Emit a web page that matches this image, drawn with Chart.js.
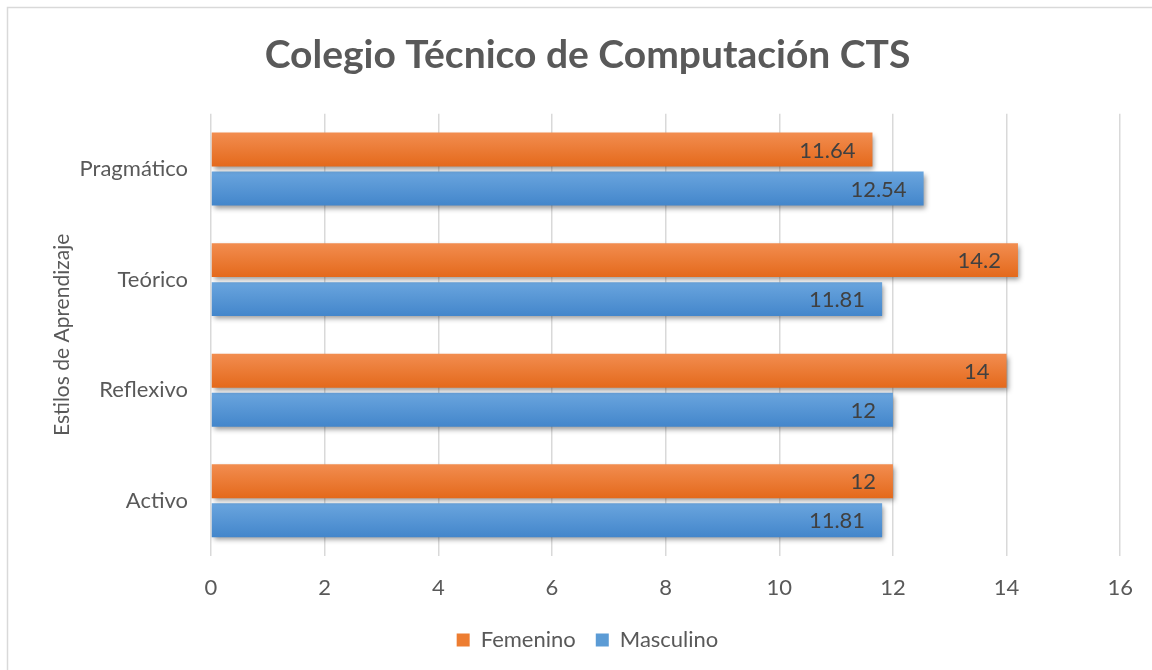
<!DOCTYPE html>
<html>
<head>
<meta charset="utf-8">
<script src="https://cdn.jsdelivr.net/npm/chart.js@4"></script>
<style>
  html, body { margin: 0; padding: 0; background: #fff; }
  #wrap { position: relative; width: 1152px; height: 670px; }
</style>
</head>
<body>
<div id="wrap"><canvas id="estilos"></canvas></div>
<script>
// categories and values
const estilos = ['Pragmático', 'Teórico', 'Reflexivo', 'Activo']
const femenino = [11.64, 14.2, 14, 12]
const masculino = [12.54, 11.81, 12, 11.81]
const xTicks = [0, 2, 4, 6, 8, 10, 12, 14, 16]

const grey = '#595959'
const fontFam = 'Lato, "Open Sans", sans-serif'

// outer border of the chart area (right and bottom edges run off the page)
const frame = {
    id: 'frame',
    beforeDraw(chart) {
        const ctx = chart.ctx
        ctx.save()
        ctx.strokeStyle = '#d9d9d9'
        ctx.lineWidth = 1.5
        ctx.strokeRect(7.5, 7.5, chart.width + 10, chart.height + 10)
        ctx.restore()
    }
}

// gradient fill + drop shadow, like the office look
const shade = {
    id: 'shade',
    beforeDatasetsDraw(chart) {
        const ctx = chart.ctx
        const cols = [['#f28d50', '#e4691b'], ['#6aa5de', '#4386cb']]
        chart.data.datasets.forEach((ds, i) => {
            chart.getDatasetMeta(i).data.forEach(bar => {
                const top = bar.y - bar.height / 2
                const g = ctx.createLinearGradient(0, top, 0, top + bar.height)
                g.addColorStop(0, cols[i][0])
                g.addColorStop(1, cols[i][1])
                bar.options = Object.assign({}, bar.options, { backgroundColor: g })
            })
        })
        ctx.save()
        ctx.shadowColor = 'rgba(0,0,0,0.4)'
        ctx.shadowBlur = 5
        ctx.shadowOffsetX = 2
        ctx.shadowOffsetY = 3
    },
    afterDatasetsDraw(chart) {
        const ctx = chart.ctx
        ctx.restore()
        // value labels inside the end of each bar
        ctx.save()
        ctx.font = '22px ' + fontFam
        ctx.fillStyle = '#404040'
        ctx.textAlign = 'right'
        ctx.textBaseline = 'middle'
        chart.data.datasets.forEach((ds, i) => {
            chart.getDatasetMeta(i).data.forEach((bar, j) => {
                ctx.fillText(String(ds.data[j]), bar.x - 17, bar.y + 1)
            })
        })
        ctx.restore()
    }
}

const data_e = {
    labels: estilos,
    datasets: [{
        label: 'Femenino',
        backgroundColor: '#ed7d31',
        data: femenino,
    }, {
        label: 'Masculino',
        backgroundColor: '#5b9bd5',
        data: masculino,
    }]
}

const config_e = {
    type: 'bar',
    data: data_e,
    options: {
        indexAxis: 'y',
        responsive: true,
        maintainAspectRatio: false,
        animation: false,
        categoryPercentage: 0.706,
        barPercentage: 0.87,
        layout: { padding: { top: 20, left: 50, right: 27, bottom: 9 } },
        plugins: {
            title: {
                display: true,
                text: 'Colegio Técnico de Computación CTS',
                color: grey,
                font: { family: fontFam, size: 39, weight: 'bold' },
                padding: { top: 12, bottom: 35 }
            },
            legend: {
                position: 'bottom',
                labels: {
                    boxWidth: 13, boxHeight: 13,
                    color: grey,
                    font: { family: fontFam, size: 22 },
                    padding: 20
                }
            },
            tooltip: { enabled: false }
        },
        scales: {
            x: {
                min: 0, max: 16,
                afterBuildTicks(scale) {
                    scale.ticks = xTicks.map(v => ({ value: v }))
                },
                afterFit(scale) { scale.height = 53 },
                grid: { color: '#d9d9d9', lineWidth: 1.5, drawTicks: false },
                border: { display: false },
                ticks: { color: grey, font: { family: fontFam, size: 22 }, padding: 19 }
            },
            y: {
                grid: { display: false },
                border: { display: false },
                afterFit(scale) { scale.width = 161 },
                ticks: { color: grey, font: { family: fontFam, size: 22 }, padding: 15 },
                title: {
                    display: true,
                    text: 'Estilos de Aprendizaje',
                    color: grey,
                    font: { family: fontFam, size: 21 },
                    padding: 0
                }
            }
        }
    },
    plugins: [frame, shade]
}

const myChart_e = new Chart(document.getElementById('estilos'), config_e)
</script>
</body>
</html>
